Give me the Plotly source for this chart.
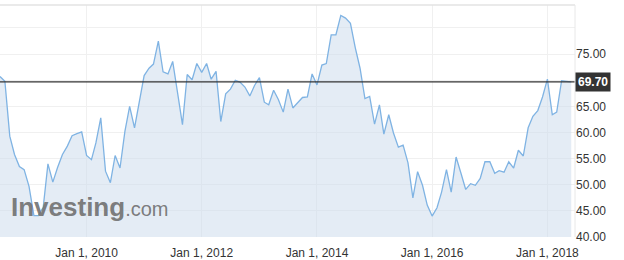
import pandas as pd
import plotly.graph_objects as go

# Monthly values, Jul 2008 - Jun 2018
months = pd.date_range("2008-07-01", periods=120, freq="MS")
values = [
    70.7, 69.8, 59.3, 55.8, 53.5, 52.9, 49.7, 44.1, 44.1, 45.7,
    54.0, 50.5, 53.3, 55.8, 57.4, 59.4, 59.8, 60.1, 55.6, 54.8,
    58.0, 62.8, 52.6, 50.4, 55.6, 53.2, 60.2, 65.0, 60.9, 66.0,
    70.9, 72.3, 73.1, 77.5, 71.6, 71.2, 73.6, 67.6, 61.5, 71.1,
    70.1, 73.2, 71.5, 73.2, 70.2, 71.7, 62.1, 67.4, 68.3, 70.0,
    69.6, 68.7, 67.0, 69.0, 70.5, 65.8, 65.3, 68.1, 66.3, 63.9,
    68.3, 64.7, 65.8, 66.7, 66.8, 71.2, 69.1, 72.9, 73.2, 78.7,
    78.7, 82.4, 81.9, 80.9, 76.2, 72.3, 66.5, 66.9, 61.6, 65.3,
    59.7, 63.4, 59.9, 57.2, 57.6, 54.2, 47.5, 52.5, 49.9, 46.1,
    44.0, 45.6, 48.6, 52.9, 48.6, 55.3, 52.3, 49.1, 50.2, 49.9,
    51.2, 54.4, 54.4, 52.2, 52.7, 52.4, 54.4, 53.2, 56.6, 55.5,
    60.9, 63.1, 64.2, 66.8, 70.2, 63.4, 63.9, 69.9, 69.8, 69.7,
]
last_value = 69.70
last_label = "69.70"

x_tick_vals = ["2010-01-01", "2012-01-01", "2014-01-01", "2016-01-01", "2018-01-01"]
x_tick_text = ["Jan 1, 2010", "Jan 1, 2012", "Jan 1, 2014", "Jan 1, 2016", "Jan 1, 2018"]
y_tick_vals = [40, 45, 50, 55, 60, 65, 70, 75, 80]
y_tick_text = ["40.00", "45.00", "50.00", "55.00", "60.00", "65.00", "", "75.00", ""]

FONT = "Liberation Sans, Arial, sans-serif"

fig = go.Figure()
fig.add_trace(go.Scatter(
    x=months, y=values, mode="lines",
    line=dict(color="#7fb3e3", width=1.3),
    fill="tozeroy", fillcolor="rgba(205,220,236,0.55)",
    hoverinfo="skip", showlegend=False,
))

# watermark
fig.add_annotation(
    xref="paper", yref="paper", x=0.016, y=0.055, xanchor="left", yanchor="bottom",
    text="<b>Investing</b><span style='font-size:20px'>.com</span>",
    showarrow=False,
    font=dict(family=FONT, size=26, color="rgba(110,110,110,0.9)"),
)

# last value line and label
fig.add_shape(type="line", xref="paper", x0=0, x1=1, yref="y", y0=last_value, y1=last_value,
              line=dict(color="#333333", width=1.2), layer="above")
fig.add_annotation(
    xref="paper", x=1, xanchor="left", yref="y", y=last_value, yanchor="middle",
    text="<b>" + last_label + "</b>", showarrow=False,
    bgcolor="#333333", borderpad=2,
    font=dict(family=FONT, size=12, color="white"),
)

# border lines top & right
fig.add_shape(type="line", xref="paper", yref="paper", x0=0, x1=1, y0=1, y1=1,
              line=dict(color="#e3e3e3", width=1.5))
fig.add_shape(type="line", xref="paper", yref="paper", x0=1, x1=1, y0=0, y1=1,
              line=dict(color="#e8e8e8", width=1))

fig.update_layout(
    width=624, height=260,
    margin=dict(l=0, r=49, t=5, b=23),
    paper_bgcolor="white", plot_bgcolor="white",
    font=dict(family=FONT, size=12, color="#333333"),
    xaxis=dict(
        type="date", range=["2008-07-01", "2018-06-25"],
        tickvals=x_tick_vals, ticktext=x_tick_text,
        showgrid=True, gridcolor="#f0f0f0", gridwidth=1,
        zeroline=False, showline=False, automargin=False,
        ticks="outside", ticklen=5, tickcolor="rgba(0,0,0,0)",
        tickfont=dict(family=FONT, size=12, color="#333333"),
    ),
    yaxis=dict(
        side="right", range=[40, 84.4], automargin=False,
        tickvals=y_tick_vals, ticktext=y_tick_text,
        showgrid=True, gridcolor="#f0f0f0", gridwidth=1,
        zeroline=False, showline=False, ticks="",
        tickfont=dict(family=FONT, size=12, color="#333333"),
    ),
)

fig.write_html("out.html")
